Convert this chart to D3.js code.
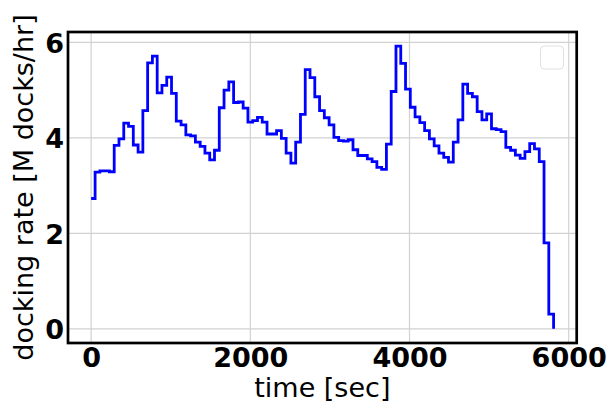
<!DOCTYPE html>
<html>
<head>
<meta charset="utf-8">
<script src="https://cdn.jsdelivr.net/npm/d3@7"></script>
<style>
  html, body { margin: 0; padding: 0; background: #fff; }
  svg { display: block; }
</style>
</head>
<body>
<svg id="chart" width="607" height="404"></svg>
<script>
// Sample times [sec]; each rate holds until the next sample
const times = [
  0, 50, 110, 170, 230, 290, 350, 410, 470, 530,
  590, 650, 710, 770, 830, 890, 950, 1010, 1070, 1130,
  1190, 1250, 1310, 1370, 1430, 1490, 1550, 1610, 1670, 1730,
  1790, 1850, 1910, 1970, 2030, 2090, 2150, 2210, 2270, 2330,
  2390, 2450, 2510, 2570, 2630, 2690, 2750, 2810, 2870, 2930,
  2990, 3050, 3110, 3170, 3230, 3290, 3350, 3410, 3470, 3530,
  3590, 3650, 3710, 3770, 3830, 3890, 3950, 4010, 4070, 4130,
  4190, 4250, 4310, 4370, 4430, 4490, 4550, 4610, 4670, 4730,
  4790, 4850, 4910, 4970, 5030, 5090, 5150, 5210, 5270, 5330,
  5390, 5450, 5510, 5570, 5630, 5690, 5750, 5810
];

// Docking rate [M docks/hr]
const rates = [
  2.73, 3.28, 3.31, 3.31, 3.29, 3.84, 3.98, 4.31, 4.24, 3.85,
  3.70, 4.57, 5.57, 5.71, 4.94, 5.10, 5.27, 4.93, 4.35, 4.27,
  4.06, 4.04, 3.91, 3.82, 3.68, 3.54, 3.74, 4.63, 5.00, 5.17,
  4.74, 4.75, 4.62, 4.33, 4.36, 4.43, 4.33, 4.08, 4.08, 4.15,
  3.99, 3.68, 3.47, 3.91, 4.49, 5.43, 5.26, 4.86, 4.57, 4.42,
  4.27, 4.01, 3.94, 3.93, 3.96, 3.75, 3.63, 3.63, 3.56, 3.50,
  3.38, 3.34, 3.87, 4.97, 5.92, 5.56, 5.02, 4.64, 4.44, 4.32,
  4.15, 3.98, 3.83, 3.68, 3.59, 3.49, 3.91, 4.375, 5.125, 4.93,
  4.86, 4.55, 4.375, 4.50, 4.19, 4.17, 4.13, 3.80, 3.74, 3.64,
  3.57, 3.71, 3.88, 3.77, 3.50, 1.80, 0.31, 0
];

const xTicks = [0, 2000, 4000, 6000];
const yTicks = [0, 2, 4, 6];

const xLabel = "time [sec]";
const yLabel = "docking rate [M docks/hr]";

const W = 607, H = 404;
const box = { left: 68, right: 576.7, top: 32, bottom: 343 };

const svg = d3.select("#chart");

// Axis limits padded by 5% of the data span, as in the usual autoscale
const tMin = d3.min(times), tMax = d3.max(times);
const tPad = (tMax - tMin) * 0.05;
const rMax = d3.max(rates);
const rPad = rMax * 0.05;

const x = d3.scaleLinear()
  .domain([tMin - tPad, tMax + tPad])
  .range([box.left, box.right]);

const y = d3.scaleLinear()
  .domain([-rPad, rMax + rPad])
  .range([box.bottom, box.top]);

// Background
svg.append("rect")
  .attr("x", box.left).attr("y", box.top)
  .attr("width", box.right - box.left).attr("height", box.bottom - box.top)
  .attr("fill", "#fff");

// Grid lines
const grid = svg.append("g").attr("class", "grid");
grid.selectAll("line.gx").data(xTicks).join("line")
  .attr("class", "gx")
  .attr("x1", d => x(d)).attr("x2", d => x(d))
  .attr("y1", box.top).attr("y2", box.bottom)
  .attr("stroke", "#d2d2d2").attr("stroke-width", 1.2);
grid.selectAll("line.gy").data(yTicks).join("line")
  .attr("class", "gy")
  .attr("x1", box.left).attr("x2", box.right)
  .attr("y1", d => y(d)).attr("y2", d => y(d))
  .attr("stroke", "#d2d2d2").attr("stroke-width", 1.2);

// Rate series as a step line
const line = d3.line()
  .x((d, i) => x(times[i]))
  .y(d => y(d))
  .curve(d3.curveStepAfter);

svg.append("path")
  .datum(rates)
  .attr("d", line)
  .attr("fill", "none")
  .attr("stroke", "#0000ff")
  .attr("stroke-width", 2.8)
  .attr("stroke-linejoin", "miter");

// Empty legend frame in the upper right
svg.append("rect")
  .attr("x", 540.5).attr("y", 46)
  .attr("width", 23).attr("height", 23)
  .attr("rx", 4).attr("ry", 4)
  .attr("fill", "#fff")
  .attr("fill-opacity", 0.8)
  .attr("stroke", "#e0e0e0")
  .attr("stroke-width", 1);

// Axes with labels only (no visible tick marks)
const tickFont = "'DejaVu Sans', sans-serif";

const xAxis = d3.axisBottom(x)
  .tickValues(xTicks)
  .tickFormat(d3.format("d"))
  .tickSize(0)
  .tickPadding(0);

const gx = svg.append("g")
  .attr("transform", `translate(0,${box.bottom})`)
  .call(xAxis);
gx.select(".domain").remove();
gx.selectAll("text")
  .attr("y", 24)
  .attr("dy", 0)
  .attr("font-family", tickFont)
  .attr("font-weight", "bold")
  .attr("font-size", 27)
  .attr("fill", "#000");

const yAxis = d3.axisLeft(y)
  .tickValues(yTicks)
  .tickFormat(d3.format("d"))
  .tickSize(0)
  .tickPadding(0);

const gy = svg.append("g")
  .attr("transform", `translate(${box.left},0)`)
  .call(yAxis);
gy.select(".domain").remove();
gy.selectAll("text")
  .attr("x", -4)
  .attr("dy", "0.36em")
  .attr("font-family", tickFont)
  .attr("font-weight", "bold")
  .attr("font-size", 27)
  .attr("fill", "#000");

// Frame
svg.append("rect")
  .attr("x", box.left).attr("y", box.top)
  .attr("width", box.right - box.left).attr("height", box.bottom - box.top)
  .attr("fill", "none")
  .attr("stroke", "#000")
  .attr("stroke-width", 2.7);

// Axis titles
svg.append("text")
  .attr("x", (box.left + box.right) / 2)
  .attr("y", 397)
  .attr("text-anchor", "middle")
  .attr("font-family", tickFont)
  .attr("font-size", 27)
  .attr("fill", "#000")
  .text(xLabel);

svg.append("text")
  .attr("transform", `translate(33,${(box.top + box.bottom) / 2}) rotate(-90)`)
  .attr("text-anchor", "middle")
  .attr("font-family", tickFont)
  .attr("font-size", 27)
  .attr("fill", "#000")
  .text(yLabel);
</script>
</body>
</html>
